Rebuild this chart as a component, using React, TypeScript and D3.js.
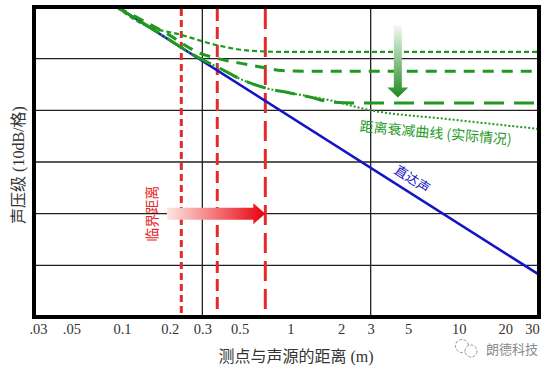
import React, { useEffect, useRef } from "react";
import * as d3 from "d3";

// x: distance (m), y: level (dB, 10 dB per grid step)
const xTicks = [0.03, 0.05, 0.1, 0.2, 0.3, 0.5, 1, 2, 3, 5, 10, 20, 30];
const xTickLabels = [".03", ".05", "0.1", "0.2", "0.3", "0.5", "1", "2", "3", "5", "10", "20", "30"];
const gridR = [0.3, 3];
const gridL = [-10, -20, -30, -40, -50];

const directR = [0.0937, 30];
const directL = [0, -51.8];

const curve1R = [0.093, 0.132, 0.225, 0.363, 0.6, 1.0, 30];
const curve1L = [0, -3.3, -5.4, -7.35, -8.5, -8.7, -8.7];
const curve2R = [0.093, 0.186, 0.288, 0.363, 0.569, 0.717, 0.89, 1.4, 30];
const curve2L = [0, -5.2, -8.9, -9.9, -11.2, -11.8, -12.3, -12.45, -12.45];
const curve3R = [0.093, 0.146, 0.296, 0.378, 0.518, 0.717, 0.98, 1.29, 1.76, 2.55, 30];
const curve3L = [0, -3.9, -10.1, -11.8, -14.1, -15.7, -16.6, -17.4, -18.4, -18.6, -18.6];
const curve4R = [0.093, 0.146, 0.296, 0.378, 0.518, 0.717, 0.98, 1.69, 2.91, 8.66, 30];
const curve4L = [0, -3.9, -10.1, -11.8, -14.1, -15.7, -16.6, -18.0, -19.9, -21.7, -23.6];

const criticalR = [0.225, 0.368, 0.71];

export default function App() {
  const svgRef = useRef<SVGSVGElement>(null);

  useEffect(() => {
    const width = 554;
    const height = 371;
    const svg = d3.select(svgRef.current).attr("width", width).attr("height", height);
    svg.selectAll("*").remove();

    const x = d3.scaleLog().domain([0.03, 30]).range([34, 539]);
    const y = d3.scaleLinear().domain([-60, 0]).range([317, 7]);

    const green = "#1f9a1f";
    const red = "#e52a2a";
    const blue = "#1414c4";
    const serif = "'Liberation Serif', 'Noto Sans CJK SC', serif";
    const cjk = "'Noto Sans CJK SC', sans-serif";

    const defs = svg.append("defs");
    defs.append("clipPath").attr("id", "plot")
      .append("rect").attr("x", 34).attr("y", 7).attr("width", 505).attr("height", 310);
    const rg = defs.append("linearGradient").attr("id", "redGrad")
      .attr("x1", "0%").attr("x2", "100%").attr("y1", "0%").attr("y2", "0%");
    rg.append("stop").attr("offset", "0%").attr("stop-color", "#fde6e2");
    rg.append("stop").attr("offset", "100%").attr("stop-color", "#e8000e");
    const gg = defs.append("linearGradient").attr("id", "greenGrad")
      .attr("x1", "0%").attr("x2", "0%").attr("y1", "0%").attr("y2", "100%");
    gg.append("stop").attr("offset", "0%").attr("stop-color", "#f6fbf4");
    gg.append("stop").attr("offset", "100%").attr("stop-color", "#1e8a1e");

    // grid
    const grid = svg.append("g").attr("stroke", "#222").attr("stroke-width", 1.3);
    grid.selectAll("line.h").data(gridL).join("line")
      .attr("x1", 34).attr("x2", 539).attr("y1", d => y(d)).attr("y2", d => y(d));
    grid.selectAll("line.v").data(gridR).join("line").attr("class", "v")
      .attr("y1", 7).attr("y2", 317).attr("x1", d => x(d)).attr("x2", d => x(d));

    const plot = svg.append("g").attr("clip-path", "url(#plot)");

    // critical distance lines
    const redDash = ["7,4", "12,6", "20,8"];
    plot.selectAll("line.crit").data(criticalR).join("line")
      .attr("x1", d => x(d)).attr("x2", d => x(d)).attr("y1", 9).attr("y2", 317)
      .attr("stroke", red).attr("stroke-width", 3)
      .attr("stroke-dasharray", (d, i) => redDash[i]);

    const line = d3.line<[number, number]>()
      .x(d => x(d[0])).y(d => y(d[1])).curve(d3.curveMonotoneX);
    const zip = (rs: number[], ls: number[]) => rs.map((r, i) => [r, ls[i]] as [number, number]);

    plot.append("path").attr("d", line(zip(directR, directL)))
      .attr("fill", "none").attr("stroke", blue).attr("stroke-width", 2.6);

    const curves = [
      { r: curve1R, l: curve1L, dash: "5,3", w: 2.2 },
      { r: curve2R, l: curve2L, dash: "11,8", w: 3 },
      { r: curve3R, l: curve3L, dash: "20,10", w: 3 },
      { r: curve4R, l: curve4L, dash: "2,2", w: 2 },
    ];
    curves.forEach(c => {
      plot.append("path").attr("d", line(zip(c.r, c.l)))
        .attr("fill", "none").attr("stroke", green)
        .attr("stroke-width", c.w).attr("stroke-dasharray", c.dash);
    });

    // red arrow (towards the critical distance)
    const ax0 = x(0.185), ax1 = x(criticalR[2]), ay = y(-40);
    svg.append("path")
      .attr("d", `M${ax0},${ay - 6}L${ax1 - 12},${ay - 6}L${ax1 - 12},${ay - 10.5}L${ax1},${ay}L${ax1 - 12},${ay + 10.5}L${ax1 - 12},${ay + 6}L${ax0},${ay + 6}Z`)
      .attr("fill", "url(#redGrad)");

    // green arrow (downwards)
    const gx = x(4.35), gy0 = y(-3.5), gy1 = y(-17.5);
    svg.append("path")
      .attr("d", `M${gx - 4},${gy0}L${gx + 4},${gy0}L${gx + 4},${gy1 - 10}L${gx + 10.5},${gy1 - 10}L${gx},${gy1}L${gx - 10.5},${gy1 - 10}L${gx - 4},${gy1 - 10}Z`)
      .attr("fill", "url(#greenGrad)");

    // frame
    svg.append("rect").attr("x", 34).attr("y", 7).attr("width", 505).attr("height", 310)
      .attr("fill", "none").attr("stroke", "#000").attr("stroke-width", 4);

    // x tick labels
    const xAxis = d3.axisBottom(x).tickValues(xTicks)
      .tickFormat((d, i) => xTickLabels[i]).tickSize(0).tickPadding(0);
    const ax = svg.append("g").attr("transform", "translate(0,322)").call(xAxis);
    ax.select(".domain").remove();
    ax.selectAll("text")
      .attr("font-family", serif).attr("font-size", 14.5).attr("fill", "#333")
      .attr("dy", "0.8em")
      .attr("dx", (d, i) => (i === 0 ? 4 : i === 12 ? -7 : i === 11 ? -4 : i === 3 ? -3 : 0));

    // annotations
    const lx = x(0.15), ly = y(-40);
    svg.append("text").attr("transform", `translate(${lx},${ly}) rotate(-90)`)
      .attr("text-anchor", "middle").attr("dy", "0.35em")
      .attr("font-family", cjk).attr("font-size", 14).attr("fill", red)
      .text("临界距离");

    const angle = Math.atan2(y(directL[1]) - y(directL[0]), x(directR[1]) - x(directR[0])) * 180 / Math.PI;
    svg.append("text").attr("transform", `translate(${x(5.3)},${y(-33.3)}) rotate(${angle})`)
      .attr("text-anchor", "middle").attr("dy", "0.35em")
      .attr("font-family", cjk).attr("font-size", 13).attr("fill", blue)
      .text("直达声");

    svg.append("text").attr("transform", `translate(${x(7.3)},${y(-24.4)}) rotate(5)`)
      .attr("text-anchor", "middle").attr("dy", "0.35em")
      .attr("font-family", cjk).attr("font-size", 14).attr("fill", green)
      .text("距离衰减曲线 (实际情况)");

    // axis titles
    svg.append("text").attr("x", 296).attr("y", 362).attr("text-anchor", "middle")
      .attr("font-family", serif).attr("font-size", 16).attr("fill", "#333")
      .text("测点与声源的距离 (m)");
    svg.append("text").attr("transform", "translate(18,165) rotate(-90)")
      .attr("text-anchor", "middle").attr("dy", "0.35em")
      .attr("font-family", serif).attr("font-size", 16).attr("fill", "#333")
      .text("声压级 (10dB/格)");

    // watermark
    const wm = svg.append("g").attr("fill", "none").attr("stroke", "#9a9a9a").attr("stroke-width", 1);
    wm.append("circle").attr("cx", 462).attr("cy", 346).attr("r", 6.5).attr("stroke-dasharray", "3,1.5");
    wm.append("circle").attr("cx", 471).attr("cy", 351).attr("r", 6).attr("fill", "#fff").attr("stroke-dasharray", "3,1.5");
    svg.append("text").attr("x", 486).attr("y", 354)
      .attr("font-family", cjk).attr("font-size", 13).attr("fill", "#8a8a8a")
      .text("朗德科技");
  }, []);

  return (
    <div className="chart">
      <svg ref={svgRef} style={{ position: "absolute", left: 0, top: 0 }}></svg>
    </div>
  );
}
